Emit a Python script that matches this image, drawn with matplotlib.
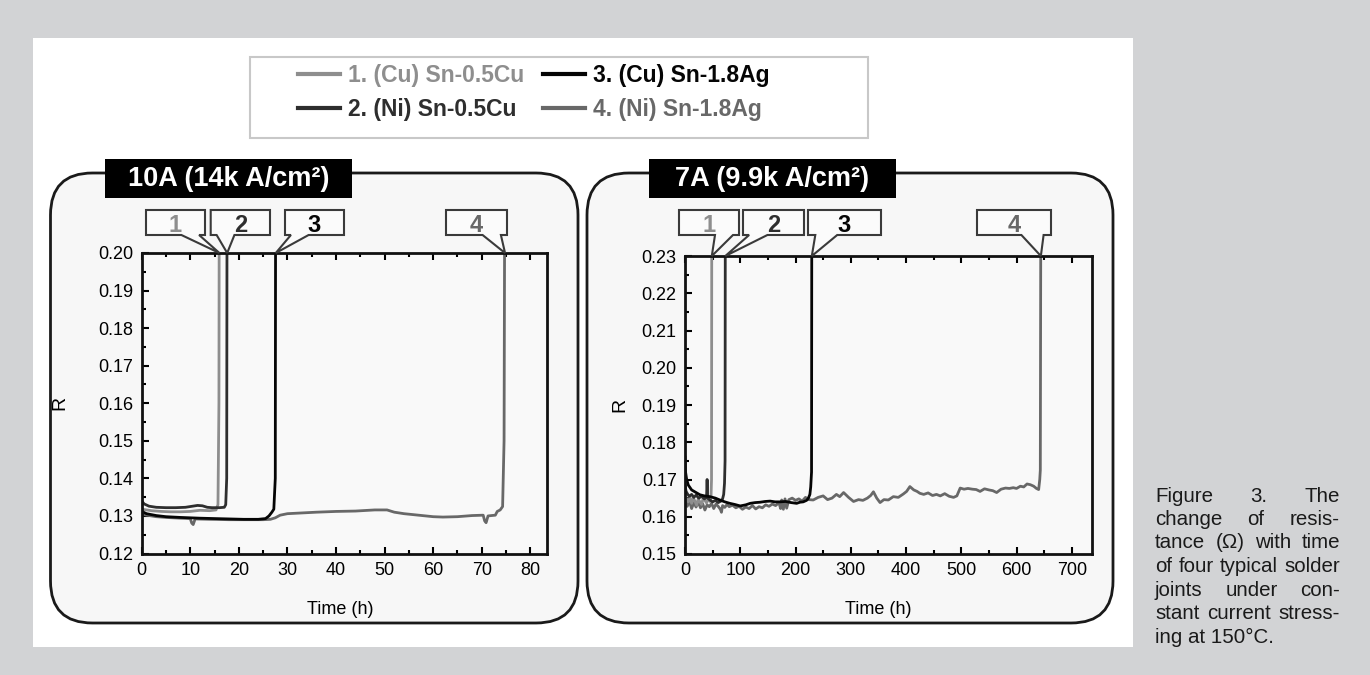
import matplotlib
matplotlib.use('Agg')
import matplotlib.pyplot as plt
from matplotlib.patches import FancyBboxPatch, Rectangle, Polygon
from matplotlib.lines import Line2D
from matplotlib.ticker import MultipleLocator, FormatStrFormatter

plt.rcParams['font.family'] = ['Liberation Sans', 'DejaVu Sans']

# ---------------- data ----------------
series_labels = ['1. (Cu) Sn-0.5Cu', '2. (Ni) Sn-0.5Cu', '3. (Cu) Sn-1.8Ag', '4. (Ni) Sn-1.8Ag']
series_numbers = ['1', '2', '3', '4']
panel_titles = ['10A (14k A/cm\u00b2)', '7A (9.9k A/cm\u00b2)']
x_label = 'Time (h)'
y_label = 'R'
caption_lines = ['Figure 3. The', 'change of resis-', 'tance (\u03a9) with time',
                 'of four typical solder', 'joints under con-',
                 'stant current stress-', 'ing at 150\u00b0C.']

# 10 A panel
t1_10 = [0, 1, 2, 4, 6, 8, 10, 12, 14, 15.3, 15.7, 15.9, 16.0]
r1_10 = [0.1318, 0.1316, 0.1314, 0.1312, 0.1311, 0.1311, 0.1312, 0.1315, 0.1314, 0.1316,
         0.1330, 0.1600, 0.25]
t2_10 = [0, 0.5, 1.5, 3, 5, 7, 9, 10.5, 11.5, 12.5, 13.5, 14.5, 16, 17, 17.3, 17.5, 17.6]
r2_10 = [0.1340, 0.1332, 0.1326, 0.1323, 0.1322, 0.1322, 0.1323, 0.1326, 0.1328, 0.1327,
         0.1323, 0.1322, 0.1322, 0.1323, 0.1330, 0.1400, 0.25]
t3_10 = [0, 1, 3, 5, 8, 10, 12, 15, 18, 21, 24, 25.5, 26.2, 26.8, 27.2, 27.5, 27.6]
r3_10 = [0.1312, 0.1306, 0.1301, 0.1298, 0.1296, 0.1295, 0.1294, 0.1293, 0.1292, 0.1291,
         0.1291, 0.1293, 0.1300, 0.1310, 0.1318, 0.1400, 0.25]
t4_10 = [0, 1, 3, 5, 8, 10, 10.3, 10.6, 11, 14,
         18, 22, 25, 26.5, 27.5, 28.5, 30, 33, 36, 40,
         44, 48, 50.5, 52, 54, 57, 60, 62, 65, 68,
         70.3, 70.6, 70.9, 71.3, 72, 72.8, 73.2, 73.8, 74.3, 74.6,
         74.8]
r4_10 = [0.1305, 0.1302, 0.1298, 0.1296, 0.1294, 0.1293, 0.1281, 0.1277, 0.1292, 0.1291,
         0.1290, 0.1290, 0.1290, 0.1291, 0.1295, 0.1302, 0.1306, 0.1308, 0.1310, 0.1312,
         0.1313, 0.1316, 0.1316, 0.1310, 0.1306, 0.1302, 0.1298, 0.1297, 0.1298, 0.1301,
         0.1302, 0.1287, 0.1282, 0.1300, 0.1301, 0.1302, 0.1312, 0.1316, 0.1325, 0.1500,
         0.25]

# 7 A panel
t1_7 = [0, 3, 6, 9, 12, 15, 18, 21, 24, 27, 30, 33, 36, 39, 42, 45, 47, 48, 48.5]
r1_7 = [0.1655, 0.1648, 0.1640, 0.1652, 0.1636, 0.1650, 0.1642, 0.1631, 0.1648, 0.1640,
        0.1633, 0.1651, 0.1644, 0.1637, 0.1649, 0.1641, 0.1650, 0.1700, 0.25]
t2_7 = [0, 2, 5, 8, 12, 16, 20, 25, 30, 35, 39, 40, 41, 45, 50, 55, 60, 65, 68, 70,
        71.5, 72.5, 73]
r2_7 = [0.1685, 0.1668, 0.1660, 0.1655, 0.1660, 0.1652, 0.1658, 0.1650, 0.1655, 0.1648,
        0.1652, 0.1700, 0.1650, 0.1645, 0.1640, 0.1644, 0.1638, 0.1642, 0.1648, 0.1660,
        0.1690, 0.1750, 0.25]
t3_7 = [0, 1, 3, 6, 12, 20, 27, 35, 45, 55, 63, 72, 81, 90, 100, 110, 118, 127, 136, 145,
        154, 163, 172, 182, 192, 202, 208, 214, 220, 223, 226, 227.5, 229, 229.5]
r3_7 = [0.1760, 0.1720, 0.1700, 0.1685, 0.1672, 0.1665, 0.1659, 0.1656, 0.1654, 0.1650,
        0.1645, 0.1640, 0.1636, 0.1633, 0.1629, 0.1632, 0.1636, 0.1638, 0.1639, 0.1641,
        0.1642, 0.1640, 0.1640, 0.1641, 0.1638, 0.1636, 0.1639, 0.1640, 0.1644, 0.1649,
        0.1660, 0.1680, 0.1720, 0.25]
t4_7 = [0, 4, 8, 12, 16, 20, 24, 28, 32, 36,
        40, 44, 48, 52, 56, 60, 64, 66, 68, 72,
        76, 80, 86, 92, 98, 104, 110, 116, 122, 128,
        134, 140, 146, 152, 158, 164, 170, 173, 175, 178,
        181, 184, 188, 194, 200, 206, 212, 218, 224, 232,
        241, 250, 258, 266, 274, 280, 287, 296, 305, 314,
        322, 330, 336, 341, 347, 353, 360, 368, 377, 386,
        395, 401, 407, 414, 420, 425, 432, 440, 448, 455,
        462, 470, 478, 486, 492, 498, 505, 512, 520, 527,
        534, 542, 550, 557, 564, 572, 580, 587, 594, 600,
        607, 613, 619, 625, 631, 636, 640, 642, 643, 644]
r4_7 = [0.1650, 0.1628, 0.1642, 0.1622, 0.1638, 0.1626, 0.1640, 0.1624, 0.1635, 0.1618,
        0.1632, 0.1627, 0.1636, 0.1622, 0.1634, 0.1628, 0.1620, 0.1612, 0.1630, 0.1625,
        0.1633, 0.1627, 0.1631, 0.1624, 0.1628, 0.1620, 0.1626, 0.1622, 0.1630, 0.1621,
        0.1627, 0.1624, 0.1632, 0.1628, 0.1634, 0.1630, 0.1638, 0.1622, 0.1645, 0.1620,
        0.1648, 0.1623, 0.1646, 0.1650, 0.1644, 0.1648, 0.1642, 0.1652, 0.1646, 0.1645,
        0.1652, 0.1656, 0.1646, 0.1650, 0.1660, 0.1654, 0.1665, 0.1652, 0.1641, 0.1646,
        0.1644, 0.1650, 0.1657, 0.1667, 0.1650, 0.1638, 0.1646, 0.1645, 0.1654, 0.1652,
        0.1661, 0.1668, 0.1681, 0.1672, 0.1668, 0.1663, 0.1660, 0.1664, 0.1657, 0.1660,
        0.1656, 0.1662, 0.1655, 0.1652, 0.1656, 0.1677, 0.1674, 0.1676, 0.1674, 0.1673,
        0.1668, 0.1675, 0.1672, 0.1670, 0.1665, 0.1674, 0.1677, 0.1676, 0.1678, 0.1676,
        0.1682, 0.1680, 0.1688, 0.1686, 0.1682, 0.1676, 0.1673, 0.1700, 0.1725, 0.25]

# ---------------- style / layout ----------------
W, H = 1370, 675
colors = ['#8e8e8e', '#2e2e2e', '#050505', '#686868']
draw_order = [3, 0, 1, 2]

fig = plt.figure(figsize=(W / 100, H / 100), dpi=100, facecolor='#d2d3d5')

bg = fig.add_axes([0, 0, 1, 1], zorder=0)
bg.set_xlim(0, W); bg.set_ylim(H, 0); bg.axis('off')
bg.add_patch(Rectangle((33, 38), 1100, 609, fc='white', ec='none'))

for (x0, w) in [(50.5, 527.5), (587, 526)]:
    bg.add_patch(FancyBboxPatch((x0, 173), w, 450,
                                boxstyle='round,pad=0,rounding_size=42',
                                fc='#f7f7f7', ec='#1a1a1a', lw=2))
for (x0, title) in [(105, panel_titles[0]), (649, panel_titles[1])]:
    bg.add_patch(Rectangle((x0, 159), 247, 39, fc='black', ec='none'))
    bg.text(x0 + 123.5, 179, title, color='white', fontsize=19.5, fontweight='bold',
            ha='center', va='center')


def px_axes(x0, x1, ytop, ybot):
    return [x0 / W, 1 - ybot / H, (x1 - x0) / W, (ybot - ytop) / H]


ax1 = fig.add_axes(px_axes(141.7, 547.3, 253, 553.5), zorder=2)
ax2 = fig.add_axes(px_axes(685, 1091.7, 256, 554), zorder=2)

data10 = [(t1_10, r1_10), (t2_10, r2_10), (t3_10, r3_10), (t4_10, r4_10)]
data7 = [(t1_7, r1_7), (t2_7, r2_7), (t3_7, r3_7), (t4_7, r4_7)]

for ax, data, xlim, ylim, xmaj in [(ax1, data10, (0, 83.5), (0.12, 0.20), 10),
                                   (ax2, data7, (0, 736), (0.15, 0.23), 100)]:
    ax.set_facecolor('#f9f9f9')
    for i in draw_order:
        t, r = data[i]
        ax.plot(t, r, color=colors[i], lw=2)
    ax.set_xlim(*xlim)
    ax.set_ylim(*ylim)
    ax.xaxis.set_major_locator(MultipleLocator(xmaj))
    ax.xaxis.set_minor_locator(MultipleLocator(xmaj / 2))
    ax.yaxis.set_major_locator(MultipleLocator(0.01))
    ax.yaxis.set_minor_locator(MultipleLocator(0.005))
    ax.yaxis.set_major_formatter(FormatStrFormatter('%.2f'))
    ax.tick_params(which='both', direction='in', top=True, right=False, width=1.5,
                   labelsize=13, colors='black')
    ax.tick_params(which='major', length=5, pad=6)
    ax.tick_params(which='minor', length=3)
    for s in ax.spines.values():
        s.set_linewidth(2)
        s.set_color('#111111')
    ax.set_xlabel(x_label, fontsize=13)
    ax.set_ylabel(y_label, fontsize=14)

ax1.xaxis.set_label_coords(0.489, -0.157)
ax1.yaxis.set_label_coords(-0.18, 0.5)
ax2.xaxis.set_label_coords(0.475, -0.157)
ax2.yaxis.set_label_coords(-0.14, 0.5)

ov = fig.add_axes([0, 0, 1, 1], zorder=3)
ov.set_xlim(0, W); ov.set_ylim(H, 0); ov.axis('off'); ov.patch.set_alpha(0)

# callout boxes
boxes = {0: [(146, 205), (210.7, 270), (285, 344), (446, 507)],
         1: [(679, 739), (743, 804), (808, 881), (977, 1051)]}
for k, (ax, data) in enumerate([(ax1, data10), (ax2, data7)]):
    ytop = ax.get_ylim()[1]
    for i, (bx0, bx1) in enumerate(boxes[k]):
        tfail = data[i][0][-1]
        dx, dy = ax.transData.transform((tfail, ytop))
        tip = (dx, H - dy)
        by0, by1 = 210, 235
        w = bx1 - bx0
        if tip[0] > (bx0 + bx1) / 2:
            n0, n1 = bx0 + 0.6 * w, bx0 + 0.9 * w
        else:
            n0, n1 = bx0 + 0.1 * w, bx0 + 0.4 * w
        poly = Polygon([(bx0, by0), (bx1, by0), (bx1, by1), (n1, by1), tip,
                        (n0, by1), (bx0, by1)], closed=True,
                       fc='#fbfbfb', ec='#3a3a3a', lw=1.5)
        ov.add_patch(poly)
        ov.text((bx0 + bx1) / 2, 226, series_numbers[i], color=colors[i],
                fontsize=17, fontweight='bold', ha='center', va='center')

# legend
handles = [Line2D([], [], color=c, lw=3) for c in colors]
leg = fig.legend(handles, series_labels, ncol=2, loc='center',
                 bbox_to_anchor=(534 / W, 1 - 92.5 / H), frameon=False,
                 prop={'size': 16.5, 'weight': 'bold'}, handlelength=1.83,
                 handletextpad=0.35, columnspacing=0.8, labelspacing=0.45)
for txt, c in zip(leg.get_texts(), colors):
    txt.set_color(c)
ov.add_patch(Rectangle((250, 57), 618, 81, fc='none', ec='#c8c8c8', lw=1.5))

# caption (justified)
renderer = fig.canvas.get_renderer()
cx0, cx1 = 1155, 1340
cap_fs = 14.8
for li, line in enumerate(caption_lines):
    y = 496 + li * 23.5
    words = line.split(' ')
    if li == len(caption_lines) - 1 or len(words) == 1:
        ov.text(cx0, y, line, fontsize=cap_fs, color='#1a1a1a', ha='left', va='center')
        continue
    ts = [ov.text(0, y, wd, fontsize=cap_fs, color='#1a1a1a', ha='left', va='center')
          for wd in words]
    widths = [t.get_window_extent(renderer).width for t in ts]
    gap = (cx1 - cx0 - sum(widths)) / (len(words) - 1)
    x = cx0
    for t, wdt in zip(ts, widths):
        t.set_x(x)
        x += wdt + gap

fig.savefig('out.png', dpi=100, facecolor=fig.get_facecolor())
